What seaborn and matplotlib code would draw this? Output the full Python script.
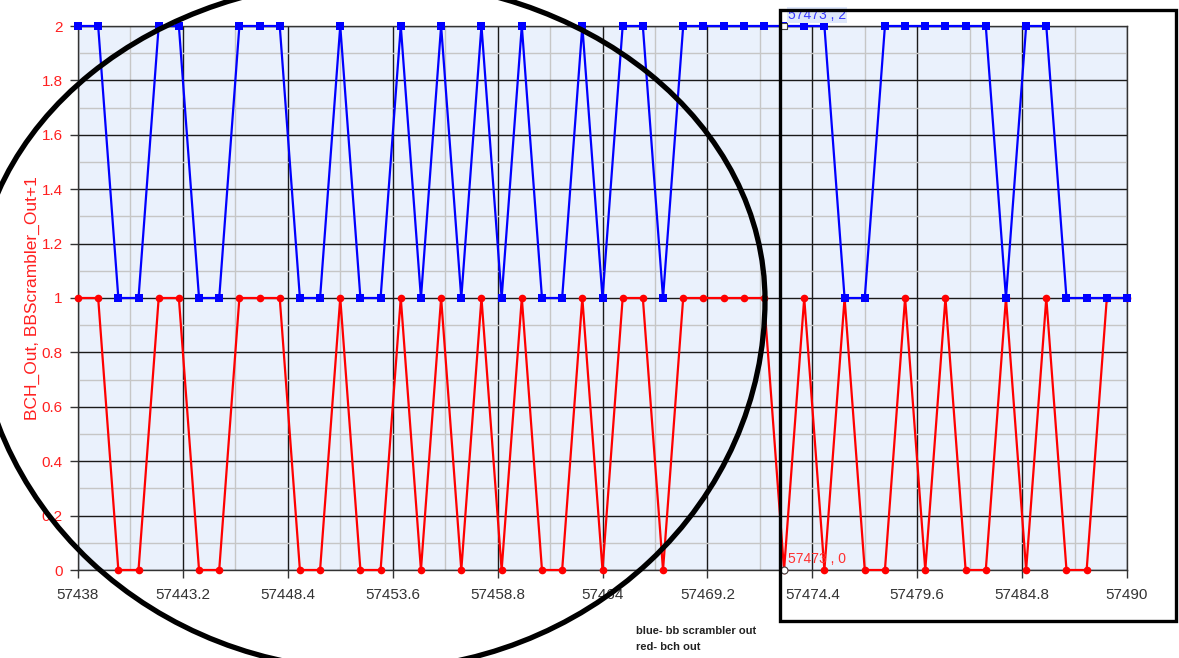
import numpy as np
import pandas as pd
import matplotlib
matplotlib.use('Agg')
import matplotlib.pyplot as plt
import seaborn as sns
from matplotlib.patches import Arc, Rectangle
from matplotlib.ticker import MultipleLocator, FixedLocator

# sample index, 57438 .. 57490
samples = list(range(57438, 57491))

# BBScrambler_Out + 1 (blue)
bb_scrambler = [2, 2, 1, 1, 2, 2, 1, 1, 2, 2, 2, 1, 1, 2, 1, 1, 2, 1,
                2, 1, 2, 1, 2, 1, 1, 2, 1, 2, 2, 1, 2, 2, 2, 2, 2,
                2,
                2, 2, 1, 1, 2, 2, 2, 2, 2, 2, 1, 2, 2, 1, 1, 1, 1]

# BCH_Out (red)
bch_out = [1, 1, 0, 0, 1, 1, 0, 0, 1, 1, 1, 0, 0, 1, 0, 0, 1, 0,
           1, 0, 1, 0, 1, 0, 0, 1, 0, 1, 1, 0, 1, 1, 1, 1, 1,
           0,
           1, 0, 1, 0, 0, 1, 0, 1, 0, 0, 1, 0, 1, 0, 0, 1, 1]

x_ticks = [57438, 57443.2, 57448.4, 57453.6, 57458.8, 57464,
           57469.2, 57474.4, 57479.6, 57484.8, 57490]
cursor = 57473

df = pd.DataFrame({'sample': samples, 'bb': bb_scrambler, 'bch': bch_out})

plt.rcParams['font.family'] = ['Liberation Sans', 'DejaVu Sans']

fig = plt.figure(figsize=(11.79, 6.58), dpi=100)
ax = fig.add_axes([78 / 1179, 1 - 570 / 658, (1127 - 78) / 1179, (570 - 26) / 658])
ax.set_facecolor('#eaf1fc')

sns.lineplot(data=df, x='sample', y='bch', ax=ax, color='#ff0000', linewidth=1.6,
             marker='o', markersize=5.5, markeredgewidth=0, zorder=3)
sns.lineplot(data=df, x='sample', y='bb', ax=ax, color='#0000ff', linewidth=1.6,
             marker='s', markersize=6, markeredgewidth=0, zorder=4)
for ln in ax.lines:
    ln.set_clip_on(False)

# highlighted cursor points
ci = samples.index(cursor)
ax.plot([cursor], [bb_scrambler[ci]], marker='s', markersize=5, markerfacecolor='white',
        markeredgecolor='#444444', markeredgewidth=0.8, zorder=6, clip_on=False)
ax.plot([cursor], [bch_out[ci]], marker='o', markersize=5, markerfacecolor='white',
        markeredgecolor='#444444', markeredgewidth=0.8, zorder=6, clip_on=False)
ax.text(cursor + 0.2, bb_scrambler[ci] + 0.015, f'{cursor} , {bb_scrambler[ci]}', color='#3b3bff',
        fontsize=10, ha='left', va='bottom', zorder=7,
        bbox=dict(facecolor='#dfe8fb', edgecolor='none', pad=0.5))
ax.text(cursor + 0.2, bch_out[ci] + 0.015, f'{cursor} , {bch_out[ci]}', color='#ff3030',
        fontsize=10, ha='left', va='bottom', zorder=7)

ax.set_xlim(57438, 57490)
ax.set_ylim(0, 2)
ax.xaxis.set_major_locator(FixedLocator(x_ticks))
ax.set_xticklabels([f'{t:g}' for t in x_ticks])
ax.xaxis.set_minor_locator(FixedLocator([t + 2.6 for t in x_ticks[:-1]]))
ax.yaxis.set_major_locator(MultipleLocator(0.2))
ax.yaxis.set_minor_locator(MultipleLocator(0.1))
ax.set_yticklabels([f'{v:g}' for v in np.round(ax.get_yticks(), 1)])

ax.grid(which='major', color='#1a1a1a', linewidth=1.0, zorder=1)
ax.grid(which='minor', color='#c6c6c6', linewidth=1.0, zorder=0)
ax.set_axisbelow(True)

ax.tick_params(axis='x', which='major', length=6, width=1, color='#333333',
               labelsize=11, labelcolor='#333333', pad=7)
ax.tick_params(axis='y', which='major', length=6, width=1, color='#333333',
               labelsize=11, labelcolor='#ff2020', pad=5)
ax.tick_params(which='minor', length=0)
for s in ax.spines.values():
    s.set_color('#333333')
    s.set_linewidth(1)

ax.set_xlabel('')
ax.set_ylabel('BCH_Out, BBScrambler_Out+1', color='#ff2020', fontsize=12.5, labelpad=1)

fig.text(636 / 1179, 1 - 631 / 658, 'blue- bb scrambler out', fontsize=8,
         fontweight='bold', color='#222222', ha='left', va='center')
fig.text(636 / 1179, 1 - 647 / 658, 'red- bch out', fontsize=8,
         fontweight='bold', color='#222222', ha='left', va='center')

# hand drawn markup on top of the screenshot
over = fig.add_axes([0, 0, 1, 1], zorder=10)
over.set_xlim(0, 1179)
over.set_ylim(658, 0)
over.axis('off')
over.patch.set_alpha(0)
over.add_patch(Arc((370, 300), 790, 640, theta1=180, theta2=360, color='black', linewidth=3.8))
over.add_patch(Arc((370, 300), 790, 740, theta1=0, theta2=180, color='black', linewidth=3.8))
over.add_patch(Rectangle((780, 10), 396, 611, fill=False, edgecolor='black', linewidth=2.4))

fig.savefig('out.png', dpi=100)
